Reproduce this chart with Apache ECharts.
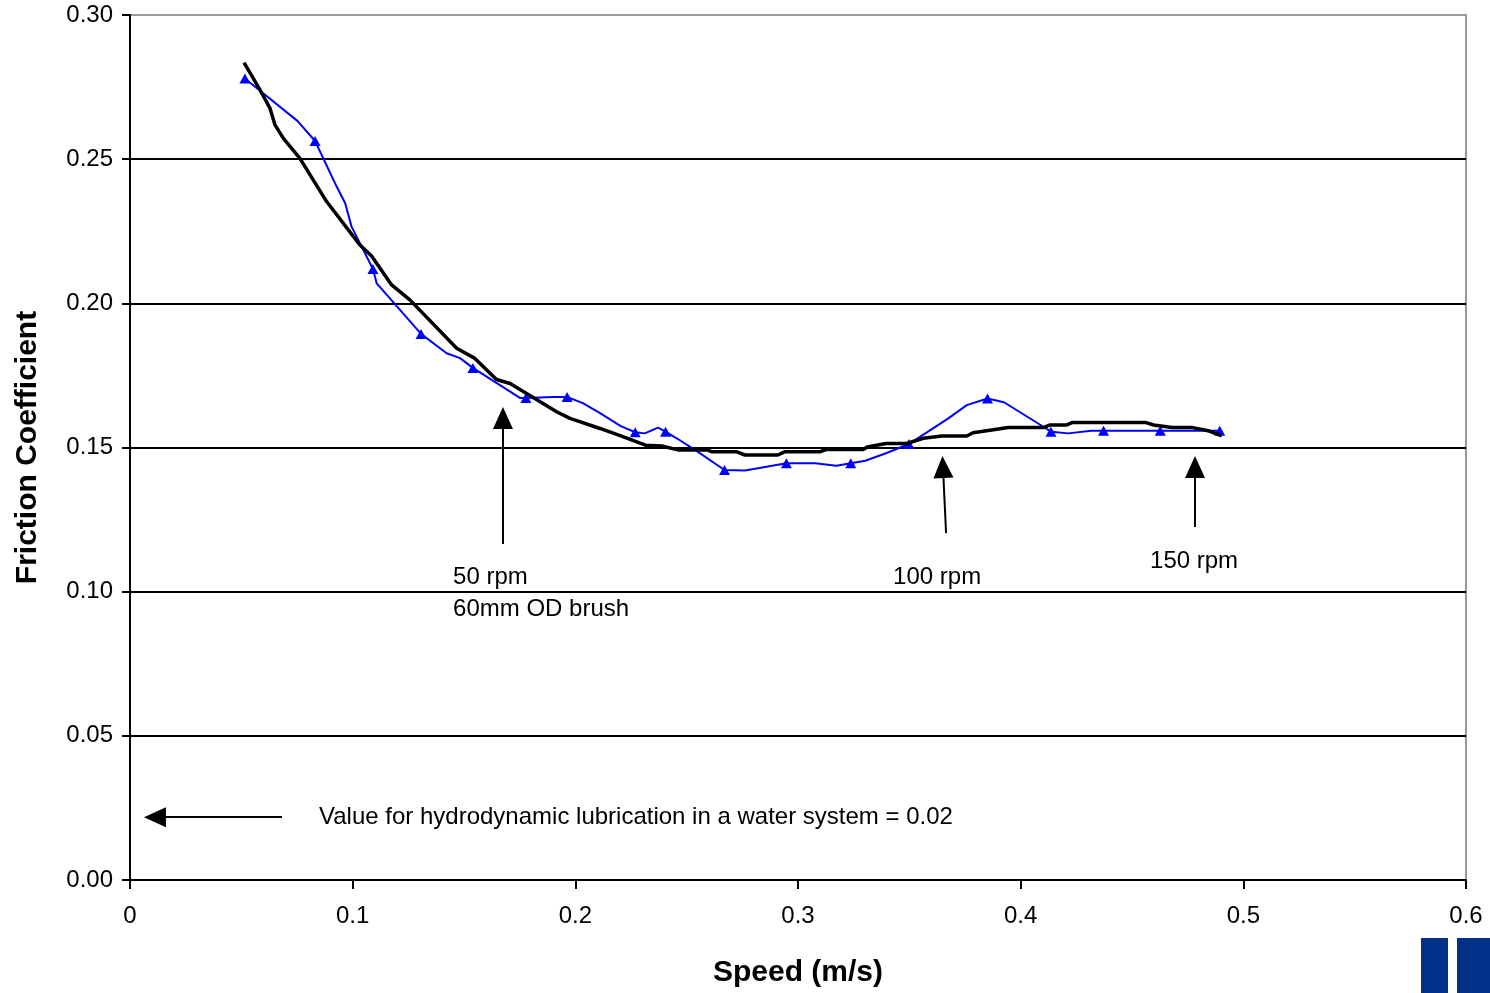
<!DOCTYPE html>
<html>
<head>
<meta charset="utf-8">
<script src="https://cdn.jsdelivr.net/npm/echarts@6/dist/echarts.min.js"></script>
<style>
  html, body { margin: 0; padding: 0; background: #fff; }
  #main { width: 1490px; height: 993px; }
</style>
</head>
<body>
<div id="main"></div>
<script>
// black curve (averaged friction)
var blackX = [0.0512, 0.0584, 0.0629, 0.0651, 0.0689, 0.0763, 0.0883, 0.1033, 0.1085, 0.1175, 0.1257, 0.1467,
  0.1549, 0.1646, 0.1707, 0.1916, 0.1976, 0.2111, 0.2204, 0.2315, 0.2389, 0.2465, 0.2595, 0.2614, 0.2725,
  0.2762, 0.2910, 0.2939, 0.3097, 0.3126, 0.3293, 0.3311, 0.3395, 0.3488, 0.3563, 0.3647, 0.3758, 0.3786,
  0.3870, 0.3944, 0.4102, 0.4130, 0.4205, 0.4233, 0.4560, 0.4597, 0.4680, 0.4773, 0.4847, 0.4903];
var blackY = [0.2835, 0.2740, 0.2676, 0.2619, 0.2572, 0.2503, 0.2353, 0.2202, 0.2164, 0.2064, 0.2012, 0.1844,
  0.1809, 0.1736, 0.1722, 0.1624, 0.1601, 0.1566, 0.1540, 0.1508, 0.1505, 0.1491, 0.1491, 0.1485, 0.1485,
  0.1474, 0.1474, 0.1485, 0.1485, 0.1493, 0.1493, 0.1502, 0.1514, 0.1514, 0.1532, 0.1540, 0.1540, 0.1551,
  0.1561, 0.1569, 0.1569, 0.1578, 0.1578, 0.1587, 0.1587, 0.1578, 0.1569, 0.1569, 0.1557, 0.1540];

// blue curve (measured), line vertices
var blueX = [0.0516, 0.0753, 0.0831, 0.0928, 0.0966, 0.0995, 0.1091, 0.1108, 0.1307, 0.1422, 0.1482, 0.1540,
  0.1751, 0.1778, 0.1900, 0.1963, 0.2034, 0.2111, 0.2204, 0.2269, 0.2312, 0.2371, 0.2405, 0.2455, 0.2539,
  0.2670, 0.2762, 0.2948, 0.3078, 0.3172, 0.3237, 0.3302, 0.3395, 0.3498, 0.3675, 0.3758, 0.3851, 0.3925,
  0.4102, 0.4136, 0.4214, 0.4316, 0.4372, 0.4627, 0.4894];
var blueY = [0.2780, 0.2632, 0.2563, 0.2405, 0.2348, 0.2266, 0.2119, 0.2069, 0.1894, 0.1827, 0.1810, 0.1776,
  0.1672, 0.1672, 0.1675, 0.1675, 0.1654, 0.1619, 0.1574, 0.1553, 0.1549, 0.1569, 0.1555, 0.1532, 0.1491,
  0.1422, 0.1420, 0.1445, 0.1445, 0.1437, 0.1445, 0.1454, 0.1480, 0.1512, 0.1601, 0.1647, 0.1670, 0.1657,
  0.1572, 0.1555, 0.1549, 0.1558, 0.1558, 0.1558, 0.1558];

// blue triangle markers
var markX = [0.0516, 0.0831, 0.1091, 0.1307, 0.1540, 0.1778, 0.1963, 0.2269, 0.2405, 0.2670, 0.2948, 0.3237,
  0.3498, 0.3851, 0.4136, 0.4372, 0.4627, 0.4894];
var markY = [0.2780, 0.2563, 0.2119, 0.1894, 0.1776, 0.1672, 0.1675, 0.1553, 0.1555, 0.1422, 0.1445, 0.1445,
  0.1512, 0.1670, 0.1555, 0.1558, 0.1558, 0.1558];

// annotation arrows, tail -> head
var arrows = [
  { from: [0.1675, 0.1165], to: [0.1675, 0.1602] },
  { from: [0.3665, 0.1203], to: [0.3651, 0.1432] },
  { from: [0.4783, 0.1224], to: [0.4783, 0.1432] },
  { from: [0.0683, 0.0218], to: [0.0112, 0.0218] }
];
var notes = [
  { x: 0.1451, y: 0.1050, text: '50 rpm' },
  { x: 0.1451, y: 0.0940, text: '60mm OD brush' },
  { x: 0.3427, y: 0.1050, text: '100 rpm' },
  { x: 0.4581, y: 0.1105, text: '150 rpm' },
  { x: 0.0849, y: 0.0218, text: 'Value for hydrodynamic lubrication in a water system = 0.02' }
];

function zip(a, b) {
  return a.map(function (v, i) { return [v, b[i]]; });
}

var chart = echarts.init(document.getElementById('main'));
var FONT = 'Liberation Sans, Arial, sans-serif';

var option = {
  animation: false,
  backgroundColor: '#fff',
  grid: {
    left: 130, right: 24, top: 15, bottom: 113,
    outerBoundsMode: 'none',
    containLabel: false,
    show: true, borderColor: '#999', borderWidth: 2, backgroundColor: 'transparent'
  },
  xAxis: {
    type: 'value', min: 0, max: 0.6, interval: 0.1,
    name: 'Speed (m/s)', nameLocation: 'middle', nameGap: 78,
    nameTextStyle: { fontFamily: FONT, fontSize: 30, fontWeight: 'bold', color: '#000' },
    axisLine: { show: true, onZero: false, lineStyle: { color: '#000', width: 2 } },
    axisTick: { show: true, inside: false, length: 9, lineStyle: { color: '#000', width: 2 } },
    axisLabel: {
      fontFamily: FONT, fontSize: 24, color: '#000', margin: 24,
      formatter: function (v) { return v === 0 ? '0' : v.toFixed(1); }
    },
    splitLine: { show: false }
  },
  yAxis: {
    type: 'value', min: 0, max: 0.30, interval: 0.05,
    name: 'Friction Coefficient', nameLocation: 'middle', nameGap: 87,
    nameTextStyle: { fontFamily: FONT, fontSize: 30, fontWeight: 'bold', color: '#000' },
    axisLine: { show: true, onZero: false, lineStyle: { color: '#000', width: 2 } },
    axisTick: { show: true, inside: false, length: 8, lineStyle: { color: '#000', width: 2 } },
    axisLabel: {
      fontFamily: FONT, fontSize: 24, color: '#000', margin: 17,
      formatter: function (v) { return v.toFixed(2); }
    },
    splitLine: {
      show: true,
      lineStyle: { color: ['#000', '#000', '#000', '#000', '#000', '#000', '#999'], width: 2 }
    }
  },
  series: [
    {
      name: 'measured',
      type: 'line',
      data: zip(blueX, blueY),
      showSymbol: false,
      smooth: false,
      lineStyle: { color: '#0000ff', width: 2 },
      z: 3
    },
    {
      name: 'measured points',
      type: 'scatter',
      data: zip(markX, markY),
      symbol: 'triangle',
      symbolSize: [11, 10],
      itemStyle: { color: '#0000ff', opacity: 1 },
      z: 4
    },
    {
      name: 'average',
      type: 'line',
      data: zip(blackX, blackY),
      showSymbol: false,
      lineStyle: { color: '#000', width: 3.5 },
      z: 5,
      markLine: {
        silent: true,
        symbol: ['none', 'triangle'],
        symbolSize: [20, 22],
        lineStyle: { color: '#000', width: 2, type: 'solid' },
        label: { show: false },
        data: arrows.map(function (a) {
          return [{ coord: a.from }, { coord: a.to }];
        })
      }
    },
    {
      name: 'notes',
      type: 'scatter',
      data: notes.map(function (n) { return { value: [n.x, n.y], name: n.text }; }),
      symbolSize: 0,
      silent: true,
      itemStyle: { opacity: 1 },
      label: {
        show: true,
        position: 'right',
        distance: 0,
        formatter: function (p) { return p.name; },
        fontFamily: FONT, fontSize: 24, color: '#000', opacity: 1
      },
      z: 6
    }
  ],
  graphic: [
    { type: 'rect', left: 1421, top: 938, shape: { width: 27, height: 60 }, style: { fill: '#003087' } },
    { type: 'rect', left: 1457, top: 938, shape: { width: 33, height: 60 }, style: { fill: '#003087' } }
  ]
};

chart.setOption(option);
</script>
</body>
</html>
